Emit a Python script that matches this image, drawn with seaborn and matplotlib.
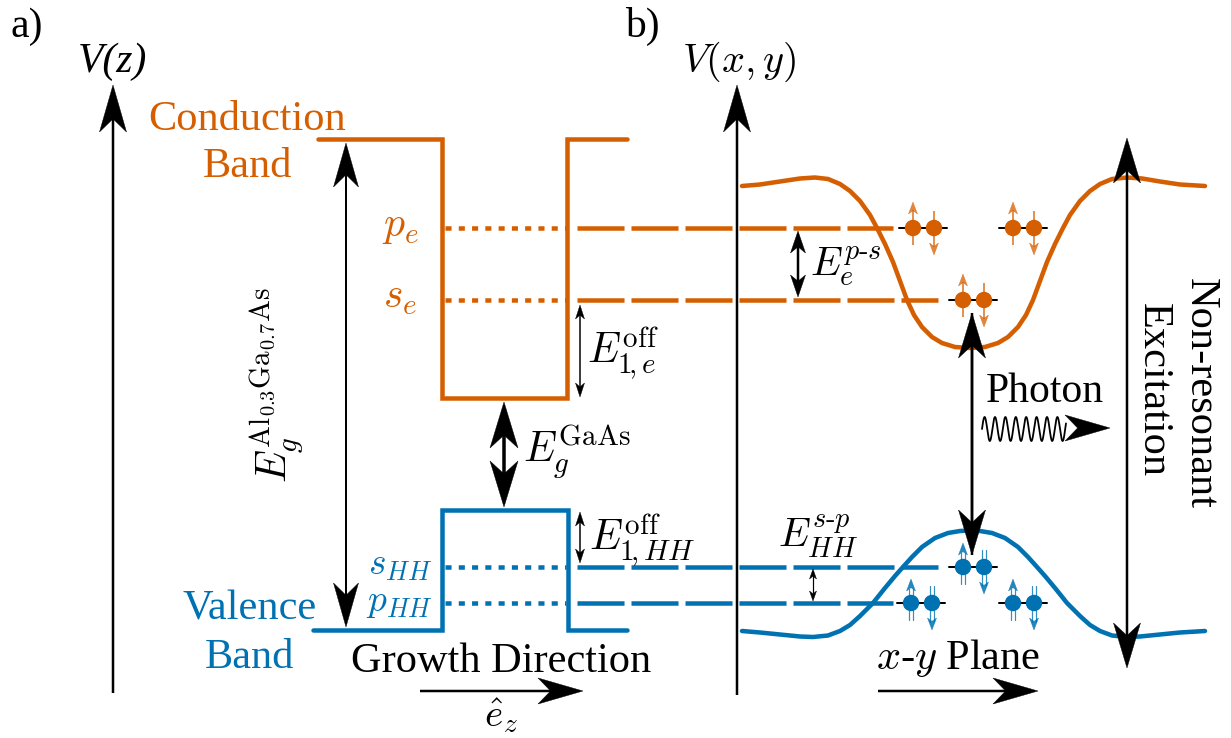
import numpy as np
import matplotlib
matplotlib.use("Agg")
import matplotlib.pyplot as plt
from matplotlib.patches import Polygon
from matplotlib import font_manager as fm
import seaborn as sns
import pandas as pd

# ---------------- data (pixel coordinates of the schematic) ----------------
ORANGE = "#D55E00"
BLUE = "#0072B2"

# conduction band well (panel a)
cb_x = [318, 442, 442, 567, 567, 627]
cb_y = [139, 139, 398, 398, 139, 139]
# valence band barrier (panel a)
vb_x = [313, 442, 442, 568, 568, 627]
vb_y = [630, 630, 510, 510, 630, 630]

# in-plane confinement potential, conduction band (panel b)
cond_x = [742, 760, 780, 800, 815, 828, 840, 850, 860, 870, 877, 885, 893, 900,
          907, 914, 922, 932, 942, 955, 970, 985, 998, 1008, 1018, 1026, 1033,
          1040, 1047, 1055, 1063, 1070, 1080, 1090, 1100, 1112, 1127, 1142,
          1160, 1180, 1205]
cond_y = [186, 184.5, 181.5, 178.5, 177.5, 179, 184, 191, 201, 215, 228, 244,
          262, 281, 300, 315, 327, 337, 343, 347, 348, 347, 343, 337, 327, 315,
          300, 281, 262, 244, 228, 215, 201, 191, 184, 179, 177.5, 178.5,
          181.5, 184.5, 186]
# in-plane confinement potential, valence band (panel b)
val_x = [742, 760, 780, 800, 813, 828, 840, 850, 860, 873, 885, 895, 903, 912,
         922, 935, 948, 960, 970, 980, 992, 1005, 1018, 1028, 1037, 1045, 1055,
         1067, 1080, 1090, 1100, 1112, 1127, 1140, 1160, 1180, 1205]
val_y = [631, 632.5, 634.5, 636.5, 637, 635.5, 631, 625, 616, 603, 588, 576,
         567, 557, 547, 538, 533, 531, 530.5, 531, 533, 538, 547, 557, 567, 576,
         588, 603, 616, 625, 631, 635.5, 637, 636.5, 634.5, 632.5, 631]

# confined levels
level_labels = [r"$p_e$", r"$s_e$", r"$s_{HH}$", r"$p_{HH}$"]
level_y = [228, 300, 567, 603]
level_end = [893, 938, 938, 893]
level_color = [ORANGE, ORANGE, BLUE, BLUE]
level_label_size = [30, 30, 27, 27]

# carrier pairs (left dot x, level y)
electron_x = [913, 1013, 963]
electron_y = [228, 228, 300]
hole_x = [963, 911, 1013]
hole_y = [567, 603, 603]
pair_sep = 21

# ---------------- style ----------------
sns.set_theme(style="white")
plt.rcParams["font.family"] = ["Liberation Serif", "DejaVu Serif"]
plt.rcParams["mathtext.fontset"] = "cm"
plt.rcParams["text.color"] = "black"

REG = fm.findfont(fm.FontProperties(family="Liberation Serif"))
ITA = fm.findfont(fm.FontProperties(family="Liberation Serif",
                                    style="italic"))

PX = 72 / 100.0  # points per pixel at dpi=100
LW_BAND = 4.5

fig = plt.figure(figsize=(12.31, 7.38), dpi=100)
ax = fig.add_axes([0, 0, 1, 1])
ax.set_xlim(0, 1231)
ax.set_ylim(738, 0)
ax.axis("off")


def T(x, y, s, fontsize=30, italic=False, **kw):
    kw.setdefault("color", "black")
    fp = fm.FontProperties(fname=ITA if italic else REG, size=fontsize)
    return ax.text(x, y, s, fontproperties=fp, **kw)


def head(tip, d, L, W, color="black", notch=0.28, z=6, alpha=1.0):
    d = np.asarray(d, float)
    d = d / np.hypot(*d)
    n = np.array([-d[1], d[0]])
    t = np.asarray(tip, float)
    b = t - d * L
    pts = [t, b + n * W / 2, t - d * L * (1 - notch), b - n * W / 2]
    ax.add_patch(Polygon(pts, closed=True, fc=color, ec=color, lw=0.3,
                         zorder=z, alpha=alpha))


def arrow(p0, p1, lw, L, W, both=False, color="black", notch=0.28, z=6,
          alpha=1.0):
    p0 = np.asarray(p0, float)
    p1 = np.asarray(p1, float)
    d = (p1 - p0) / np.hypot(*(p1 - p0))
    s = p0 + (d * L * (1 - notch) * 0.9 if both else 0)
    e = p1 - d * L * (1 - notch) * 0.9
    ax.plot([s[0], e[0]], [s[1], e[1]], color=color, lw=lw * PX,
            solid_capstyle="butt", zorder=z, alpha=alpha)
    head(p1, d, L, W, color, notch, z, alpha)
    if both:
        head(p0, -d, L, W, color, notch, z, alpha)


# ---------------- panel a ----------------
band_df = pd.DataFrame({"x": cb_x, "y": cb_y})
sns.lineplot(data=band_df, x="x", y="y", sort=False, estimator=None, ax=ax,
             color=ORANGE, lw=LW_BAND * PX, legend=False, zorder=3)
vb_df = pd.DataFrame({"x": vb_x, "y": vb_y})
sns.lineplot(data=vb_df, x="x", y="y", sort=False, estimator=None, ax=ax,
             color=BLUE, lw=LW_BAND * PX, legend=False, zorder=3)
for ln in ax.lines:
    ln.set_solid_joinstyle("miter")

for lab, yy, xe, c, fs in zip(level_labels, level_y, level_end, level_color,
                              level_label_size):
    ax.plot([445, 566], [yy, yy], color=c, lw=LW_BAND * PX,
            dashes=(1.35, 1.6), dash_capstyle="butt", zorder=3)
    ax.plot([577, xe], [yy, yy], color=c, lw=LW_BAND * PX,
            dashes=(10.45, 1.55), dash_capstyle="butt", zorder=3)
    T(400, yy + 8, lab, color=c, fontsize=fs, ha="center", va="baseline")

# axes arrows
arrow((113, 693), (113, 85), 2.5, 47, 27)
arrow((737, 695), (737, 85), 2.5, 47, 27)
T(113, 72, "V(z)", fontsize=30, italic=True, ha="center", va="baseline")
T(739, 72, r"$V(x,y)$", fontsize=29, ha="center", va="baseline")
T(27, 37, "a)", fontsize=30, ha="center", va="baseline")
T(642, 37, "b)", fontsize=30, ha="center", va="baseline")

# band labels
T(247, 130, "Conduction", color=ORANGE, fontsize=30.5, ha="center",
  va="baseline")
T(247, 177, "Band", color=ORANGE, fontsize=30.5, ha="center", va="baseline")
T(250, 620, "Valence", color=BLUE, fontsize=30.5, ha="center", va="baseline")
T(250, 668, "Band", color=BLUE, fontsize=30.5, ha="center", va="baseline")

# energy arrows panel a
arrow((346, 143), (346, 627), 2, 44, 25, both=True)
T(277, 385, r"$E_g^{\mathrm{Al}_{0.3}\mathrm{Ga}_{0.7}\mathrm{As}}$",
  fontsize=30, rotation=90, ha="center", va="center")
arrow((504, 402), (504, 507), 3.5, 46, 28, both=True)
T(523, 462, r"$E_g^{\mathrm{GaAs}}$", fontsize=30, ha="left", va="baseline")
arrow((580, 305), (580, 397), 1.5, 14, 9, both=True)
T(587, 363, r"$E_{1\!,e}^{\mathrm{off}}$", fontsize=30, ha="left",
  va="baseline")
arrow((580, 512), (580, 563), 1.5, 14, 9, both=True)
T(589, 550, r"$E_{1\!,HH}^{\mathrm{off}}$", fontsize=30, ha="left",
  va="baseline")

# growth direction
T(501, 672, "Growth Direction", fontsize=30.5, ha="center", va="baseline")
arrow((420, 691), (583, 691), 2.5, 45, 26)
T(501, 726, r"$\hat{e}_z$", fontsize=28, ha="center", va="baseline")

# ---------------- panel b ----------------
cond_df = pd.DataFrame({"x": cond_x, "y": cond_y})
sns.lineplot(data=cond_df, x="x", y="y", sort=False, estimator=None, ax=ax,
             color=ORANGE, lw=LW_BAND * PX, legend=False, zorder=4)
val_df = pd.DataFrame({"x": val_x, "y": val_y})
sns.lineplot(data=val_df, x="x", y="y", sort=False, estimator=None, ax=ax,
             color=BLUE, lw=LW_BAND * PX, legend=False, zorder=4)
for ln in ax.lines[-2:]:
    ln.set_solid_joinstyle("round")

# level spacing arrows
arrow((798, 231), (798, 297), 2.5, 22, 15, both=True)
T(810, 276, r"$E_e^{p\text{-}s}$", fontsize=29, ha="left", va="baseline")
arrow((813, 569), (813, 601), 1.2, 10, 7, both=True)
T(778, 547, r"$E_{HH}^{s\text{-}p}$", fontsize=29, ha="left", va="baseline")

# carriers
for kind, xs, ys, col in (("e", electron_x, electron_y, ORANGE),
                          ("h", hole_x, hole_y, BLUE)):
    for x0, y0 in zip(xs, ys):
        x1 = x0 + pair_sep
        ax.plot([x0 - 14, x1 + 13], [y0, y0], color="black", lw=2 * PX,
                zorder=7)
        if kind == "e":
            arrow((x0, y0 + 17), (x0, y0 - 26), 1.8, 12, 9, color=col,
                  z=7, alpha=0.75)
            arrow((x1, y0 - 17), (x1, y0 + 27), 1.8, 12, 9, color=col,
                  z=7, alpha=0.75)
        else:
            for off in (-1.8, 1.8):
                ax.plot([x0 + off, x0 + off], [y0 + 17, y0 - 14], color=col,
                        lw=1.2 * PX, zorder=7, alpha=0.8)
                ax.plot([x1 + off, x1 + off], [y0 - 17, y0 + 19], color=col,
                        lw=1.2 * PX, zorder=7, alpha=0.8)
            head((x0, y0 - 24), (0, -1), 12, 9, col, z=7, alpha=0.85)
            head((x1, y0 + 27), (0, 1), 12, 9, col, z=7, alpha=0.85)
        dots = pd.DataFrame({"x": [x0, x1], "y": [y0, y0]})
        sns.scatterplot(data=dots, x="x", y="y", ax=ax, color=col, s=140,
                        edgecolor="none", zorder=8, legend=False)

# photon & excitation arrows
arrow((972, 555), (972, 313), 2.5, 45, 27)
arrow((972, 313), (972, 555), 2.5, 45, 27)
T(1045, 402, "Photon", fontsize=30, ha="center", va="baseline")
wx = np.linspace(982, 1066, 400)
wy = 429 - 12 * np.sin(2 * np.pi * (wx - 982) / 10.4)
ax.plot(wx, wy, color="black", lw=1.8 * PX, zorder=6)
head((1110, 428), (1, 0), 45, 26)

arrow((1127, 400), (1127, 138), 2.5, 45, 27)
arrow((1127, 400), (1127, 668), 2.5, 45, 27)
T(1200, 393, "Non-resonant", fontsize=30.5, rotation=-90, ha="center",
  va="center")
T(1153, 390, "Excitation", fontsize=30.5, rotation=-90, ha="center",
  va="center")

# x-y plane
T(958, 669, r"$x$-$y$ Plane", fontsize=30.5, ha="center", va="baseline")
arrow((878, 691), (1038, 691), 2.5, 45, 26)

fig.savefig("out.png", dpi=100)
